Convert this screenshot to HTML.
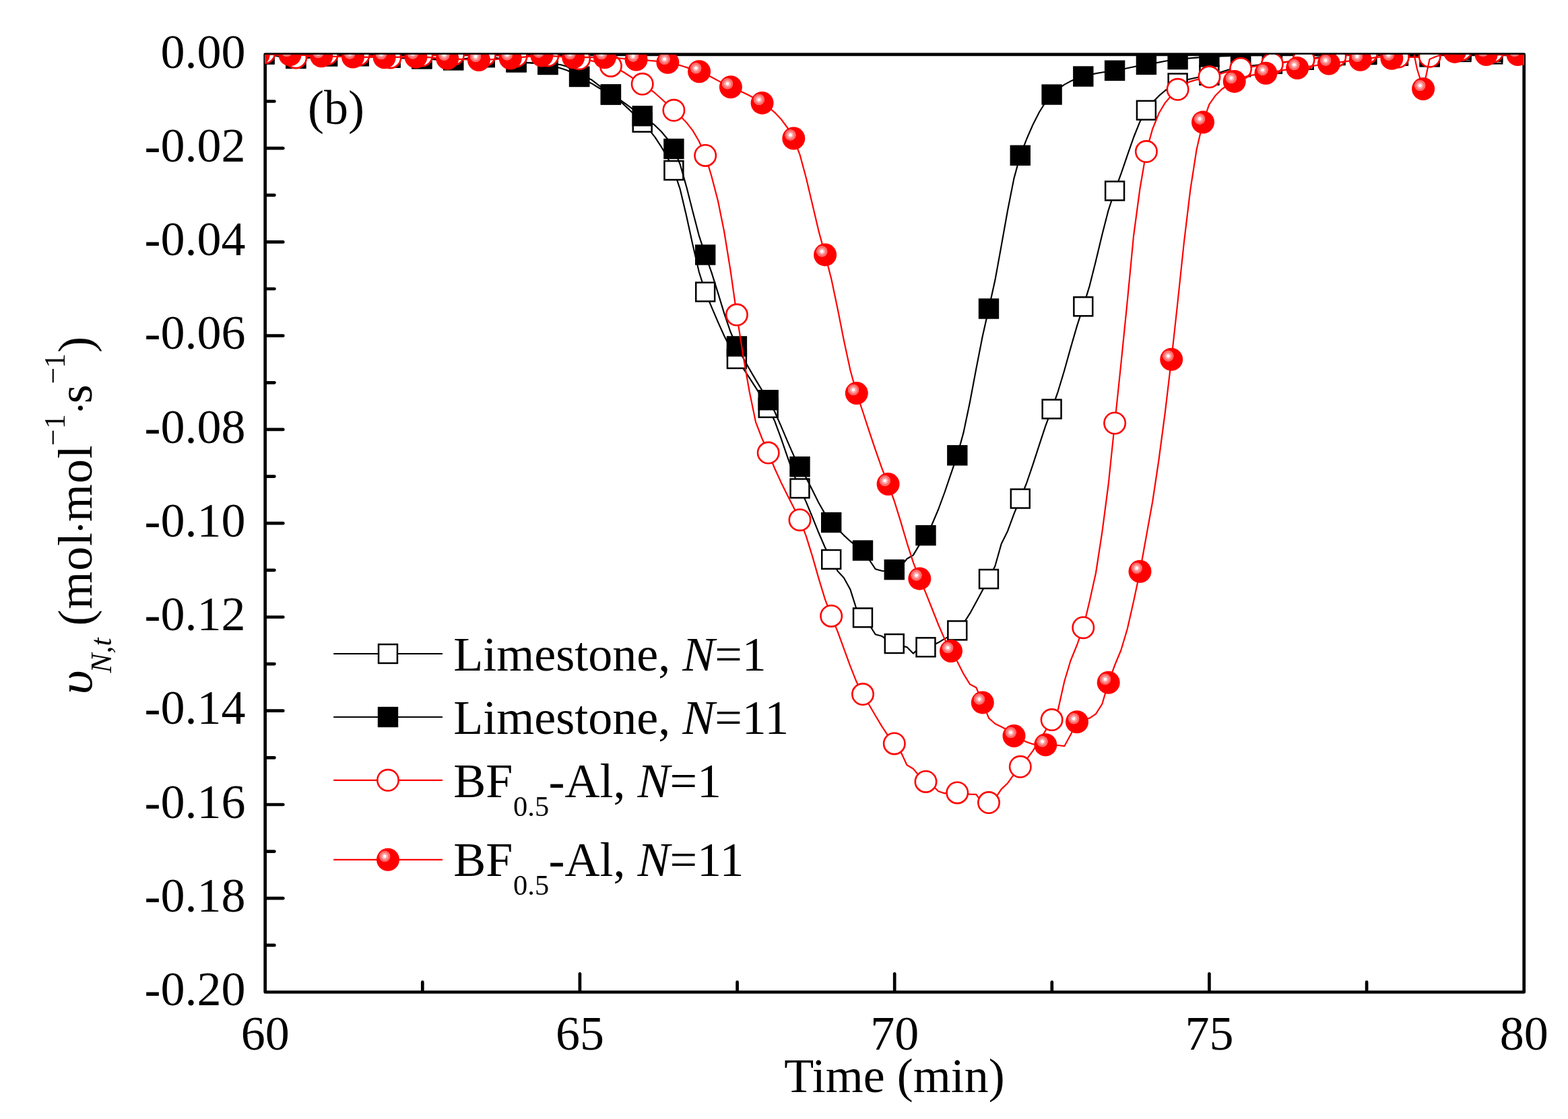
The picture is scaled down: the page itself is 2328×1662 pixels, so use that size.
<!DOCTYPE html>
<html><head><meta charset="utf-8"><title>Figure (b)</title>
<style>
html,body{margin:0;padding:0;background:#fff;}
svg{display:block;}
text{font-family:"Liberation Serif","Times New Roman",serif;fill:#000;}
.tk{font-size:72px;}
.ax{stroke:#000;stroke-width:4.7;stroke-linecap:round;fill:none;}
.lb{stroke:#000;stroke-width:2.15;fill:none;stroke-linejoin:round;}
.lr{stroke:#ff0000;stroke-width:2.2;fill:none;stroke-linejoin:round;}
.os{fill:#fff;stroke:#000;stroke-width:2.5;}
.fs{fill:#000;stroke:none;}
.oc{fill:#fff;stroke:#ff0000;stroke-width:2.6;}
</style></head><body>
<svg width="2328" height="1662" viewBox="0 0 2328 1662">
<defs>
<clipPath id="pc"><rect x="393.7" y="80.9" width="1869.0" height="1392.6"/></clipPath>
<radialGradient id="bg" gradientUnits="userSpaceOnUse" cx="-4.8" cy="-5" r="8.6">
<stop offset="0" stop-color="#fff"/><stop offset="0.24" stop-color="#fff"/>
<stop offset="0.30" stop-color="#ffb4b4"/><stop offset="0.55" stop-color="#ff9c9c"/>
<stop offset="0.62" stop-color="#ff7474"/><stop offset="0.93" stop-color="#ff6464"/>
<stop offset="1" stop-color="#ff0000"/>
</radialGradient>
<g id="ball"><circle r="17" fill="#ff0000"/><circle cx="-4.8" cy="-5" r="8.6" fill="url(#bg)"/></g>
<rect id="osq" class="os" x="-13.95" y="-13.95" width="27.9" height="27.9"/>
<rect id="fsq" class="fs" x="-15.2" y="-15.2" width="30.4" height="30.4"/>
<circle id="ocr" class="oc" r="15.7"/>
</defs>
<rect width="2328" height="1662" fill="#fff"/>

<g class="ax">
<rect x="393.7" y="80.9" width="1869.0" height="1392.6" stroke-linejoin="round"/>
<line x1="395.7" y1="150.5" x2="407.4" y2="150.5"/>
<line x1="395.7" y1="220.2" x2="420.3" y2="220.2"/>
<line x1="395.7" y1="289.8" x2="407.4" y2="289.8"/>
<line x1="395.7" y1="359.4" x2="420.3" y2="359.4"/>
<line x1="395.7" y1="429.0" x2="407.4" y2="429.0"/>
<line x1="395.7" y1="498.7" x2="420.3" y2="498.7"/>
<line x1="395.7" y1="568.3" x2="407.4" y2="568.3"/>
<line x1="395.7" y1="637.9" x2="420.3" y2="637.9"/>
<line x1="395.7" y1="707.6" x2="407.4" y2="707.6"/>
<line x1="395.7" y1="777.2" x2="420.3" y2="777.2"/>
<line x1="395.7" y1="846.8" x2="407.4" y2="846.8"/>
<line x1="395.7" y1="916.5" x2="420.3" y2="916.5"/>
<line x1="395.7" y1="986.1" x2="407.4" y2="986.1"/>
<line x1="395.7" y1="1055.7" x2="420.3" y2="1055.7"/>
<line x1="395.7" y1="1125.4" x2="407.4" y2="1125.4"/>
<line x1="395.7" y1="1195.0" x2="420.3" y2="1195.0"/>
<line x1="395.7" y1="1264.6" x2="407.4" y2="1264.6"/>
<line x1="395.7" y1="1334.2" x2="420.3" y2="1334.2"/>
<line x1="395.7" y1="1403.9" x2="407.4" y2="1403.9"/>
<line x1="627.3" y1="1471.5" x2="627.3" y2="1458.7"/>
<line x1="860.9" y1="1471.5" x2="860.9" y2="1446.3"/>
<line x1="1094.6" y1="1471.5" x2="1094.6" y2="1458.7"/>
<line x1="1328.2" y1="1471.5" x2="1328.2" y2="1446.3"/>
<line x1="1561.8" y1="1471.5" x2="1561.8" y2="1458.7"/>
<line x1="1795.4" y1="1471.5" x2="1795.4" y2="1446.3"/>
<line x1="2029.1" y1="1471.5" x2="2029.1" y2="1458.7"/>
</g>
<g class="tk" text-anchor="end">
<text x="364.6" y="100.5">0.00</text>
<text x="364.6" y="239.8">-0.02</text>
<text x="364.6" y="379.0">-0.04</text>
<text x="364.6" y="518.3">-0.06</text>
<text x="364.6" y="657.5">-0.08</text>
<text x="364.6" y="796.8">-0.10</text>
<text x="364.6" y="936.1">-0.12</text>
<text x="364.6" y="1075.3">-0.14</text>
<text x="364.6" y="1214.6">-0.16</text>
<text x="364.6" y="1353.8">-0.18</text>
<text x="364.6" y="1493.1">-0.20</text>
</g>
<g class="tk" text-anchor="middle">
<text x="393.7" y="1558.5">60</text>
<text x="860.9" y="1558.5">65</text>
<text x="1328.2" y="1558.5">70</text>
<text x="1795.4" y="1558.5">75</text>
<text x="2262.7" y="1558.5">80</text>
<text x="1328" y="1621.5">Time (min)</text>
</g>
<text class="tk" x="457" y="183.5">(b)</text>
<g transform="translate(136,1029) rotate(-90)" class="tk">
<text x="-2.5" y="0" font-style="italic" textLength="36" lengthAdjust="spacingAndGlyphs">&#965;</text>
<text x="29.6" y="28.7" font-size="43.5px" font-style="italic">N,t</text>
<text x="99.4" y="0" letter-spacing="0.9">(mol</text>
<text x="235" y="4" font-size="62px">&#183;</text>
<text x="254" y="0" letter-spacing="0.9">mol</text>
<text x="367" y="-43.2" font-size="43.5px">&#8722;</text>
<text x="392" y="-39.6" font-size="43.5px">1</text>
<text x="412.6" y="4" font-size="62px">&#183;</text>
<text x="429.8" y="0">s</text>
<text x="458.7" y="-43.2" font-size="43.5px">&#8722;</text>
<text x="482.2" y="-39.6" font-size="43.5px">1</text>
<text x="505.3" y="0">)</text>
</g>
<g clip-path="url(#pc)">
<path class="lb" d="M392.5 80.3 L401.9 81.6 L411.2 83.3 L420.6 84.9 L429.9 86.2 L439.3 86.9 L448.6 86.8 L458.0 86.0 L467.3 85.0 L476.7 84.1 L486.0 83.5 L495.4 83.2 L504.7 83.1 L514.1 83.0 L523.4 83.1 L532.8 83.2 L542.1 83.5 L551.5 84.1 L560.8 84.7 L570.2 85.3 L579.5 85.8 L588.9 86.1 L598.3 86.5 L607.6 86.8 L617.0 87.1 L626.3 87.4 L635.7 87.8 L645.0 88.3 L654.4 88.8 L663.7 89.2 L673.1 89.2 L682.4 88.6 L691.8 87.5 L701.1 86.3 L710.5 85.4 L719.8 85.2 L729.2 86.0 L738.5 87.5 L747.9 89.4 L757.2 91.2 L766.6 92.5 L776.0 93.1 L785.3 93.5 L794.7 93.9 L804.0 94.7 L813.4 96.0 L822.7 98.6 L832.1 101.3 L841.4 104.2 L850.8 108.5 L860.1 114.0 L869.5 119.5 L878.8 124.2 L888.2 130.0 L897.5 135.0 L906.9 140.6 L916.2 146.9 L925.6 154.7 L934.9 163.4 L944.3 172.6 L953.7 181.8 L963.0 191.8 L972.4 203.7 L981.7 217.8 L991.1 234.2 L1000.4 253.1 L1009.8 281.2 L1019.1 320.4 L1028.5 363.6 L1037.8 403.7 L1047.2 433.6 L1056.5 456.1 L1065.9 478.1 L1075.2 498.8 L1084.6 517.4 L1093.9 533.0 L1103.3 546.9 L1112.6 561.2 L1122.0 575.7 L1131.3 590.6 L1140.7 605.8 L1150.1 625.2 L1159.4 650.3 L1168.8 677.7 L1178.1 703.9 L1187.5 725.4 L1196.8 745.4 L1206.2 768.1 L1215.5 791.3 L1224.9 813.0 L1234.2 830.9 L1243.6 848.1 L1252.9 858.3 L1262.3 875.2 L1271.6 904.5 L1281.0 917.4 L1290.3 927.3 L1299.7 942.3 L1309.0 944.7 L1318.4 951.3 L1327.8 956.0 L1337.1 959.0 L1346.5 961.1 L1355.8 970.6 L1365.2 962.3 L1374.5 961.3 L1383.9 959.0 L1393.2 954.3 L1402.6 948.6 L1411.9 943.9 L1421.3 936.4 L1430.6 925.8 L1440.0 911.2 L1449.3 894.3 L1458.7 876.7 L1468.0 860.0 L1477.4 840.8 L1486.7 807.7 L1496.1 788.7 L1505.4 763.4 L1514.8 740.6 L1524.2 717.5 L1533.5 690.2 L1542.9 661.2 L1552.2 632.8 L1561.6 607.6 L1570.9 581.3 L1580.3 550.0 L1589.6 516.6 L1599.0 484.1 L1608.3 455.3 L1617.7 424.6 L1627.0 387.4 L1636.4 348.3 L1645.7 312.1 L1655.1 283.5 L1664.4 258.2 L1673.8 230.7 L1683.1 204.0 L1692.5 180.7 L1701.9 163.8 L1711.2 152.1 L1720.6 142.4 L1729.9 134.5 L1739.3 128.2 L1748.6 123.4 L1758.0 119.8 L1767.3 117.2 L1776.7 115.3 L1786.0 113.6 L1795.4 111.8 L1804.7 109.5 L1814.1 106.7 L1823.4 103.8 L1832.8 101.3 L1842.1 99.4 L1851.5 98.2 L1860.8 97.2 L1870.2 96.3 L1879.5 95.5 L1888.9 94.7 L1898.3 93.7 L1907.6 92.5 L1917.0 91.2 L1926.3 90.0 L1935.7 88.8 L1945.0 87.5 L1954.4 85.8 L1963.7 84.1 L1973.1 82.5 L1982.4 81.5 L1991.8 80.9 L2001.1 80.5 L2010.5 80.2 L2019.8 80.0 L2029.2 80.0 L2038.5 80.1 L2047.9 80.4 L2057.2 80.7 L2066.6 81.1 L2075.9 81.5 L2085.3 82.1 L2094.7 82.9 L2104.0 83.7 L2113.4 84.2 L2122.7 84.2 L2132.1 83.3 L2141.4 81.6 L2150.8 79.6 L2160.1 77.9 L2169.5 77.0 L2178.8 77.1 L2188.2 77.8 L2197.5 78.8 L2206.9 79.8 L2216.2 80.4 L2225.6 80.7 L2234.9 80.8 L2244.3 80.9 L2253.6 80.9 L2263.0 81.0"/>
<use href="#osq" x="392.5" y="80.3"/>
<use href="#osq" x="439.3" y="86.9"/>
<use href="#osq" x="486.0" y="83.5"/>
<use href="#osq" x="532.8" y="83.2"/>
<use href="#osq" x="579.5" y="85.8"/>
<use href="#osq" x="626.3" y="87.4"/>
<use href="#osq" x="673.1" y="89.2"/>
<use href="#osq" x="719.8" y="85.2"/>
<use href="#osq" x="766.6" y="92.5"/>
<use href="#osq" x="813.4" y="96.0"/>
<use href="#osq" x="860.1" y="114.0"/>
<use href="#osq" x="906.9" y="140.6"/>
<use href="#osq" x="953.7" y="181.8"/>
<use href="#osq" x="1000.4" y="253.1"/>
<use href="#osq" x="1047.2" y="433.6"/>
<use href="#osq" x="1093.9" y="533.0"/>
<use href="#osq" x="1140.7" y="605.8"/>
<use href="#osq" x="1187.5" y="725.4"/>
<use href="#osq" x="1234.2" y="830.9"/>
<use href="#osq" x="1281.0" y="917.4"/>
<use href="#osq" x="1327.8" y="956.0"/>
<use href="#osq" x="1374.5" y="961.3"/>
<use href="#osq" x="1421.3" y="936.4"/>
<use href="#osq" x="1468.0" y="860.0"/>
<use href="#osq" x="1514.8" y="740.6"/>
<use href="#osq" x="1561.6" y="607.6"/>
<use href="#osq" x="1608.3" y="455.3"/>
<use href="#osq" x="1655.1" y="283.5"/>
<use href="#osq" x="1701.9" y="163.8"/>
<use href="#osq" x="1748.6" y="123.4"/>
<use href="#osq" x="1795.4" y="111.8"/>
<use href="#osq" x="1842.1" y="99.4"/>
<use href="#osq" x="1888.9" y="94.7"/>
<use href="#osq" x="1935.7" y="88.8"/>
<use href="#osq" x="1982.4" y="81.5"/>
<use href="#osq" x="2029.2" y="80.0"/>
<use href="#osq" x="2075.9" y="81.5"/>
<use href="#osq" x="2122.7" y="84.2"/>
<use href="#osq" x="2169.5" y="77.0"/>
<use href="#osq" x="2216.2" y="80.4"/>
<use href="#osq" x="2263.0" y="81.0"/>
<path class="lb" d="M392.5 80.5 L401.9 81.6 L411.2 83.0 L420.6 84.3 L429.9 85.4 L439.3 86.0 L448.6 85.9 L458.0 85.2 L467.3 84.3 L476.7 83.5 L486.0 83.0 L495.4 82.8 L504.7 82.8 L514.1 82.8 L523.4 82.9 L532.8 83.0 L542.1 83.3 L551.5 83.7 L560.8 84.1 L570.2 84.6 L579.5 85.0 L588.9 85.4 L598.3 85.8 L607.6 86.2 L617.0 86.6 L626.3 87.0 L635.7 87.5 L645.0 88.1 L654.4 88.8 L663.7 89.2 L673.1 89.2 L682.4 88.5 L691.8 87.1 L701.1 85.6 L710.5 84.4 L719.8 84.0 L729.2 84.8 L738.5 86.4 L747.9 88.5 L757.2 90.4 L766.6 91.8 L776.0 92.5 L785.3 93.0 L794.7 93.6 L804.0 94.4 L813.4 95.8 L822.7 95.2 L832.1 96.0 L841.4 98.7 L850.8 105.0 L860.1 113.8 L869.5 114.5 L878.8 118.8 L888.2 126.2 L897.5 133.4 L906.9 140.2 L916.2 145.5 L925.6 151.8 L934.9 158.6 L944.3 165.6 L953.7 172.3 L963.0 178.9 L972.4 186.2 L981.7 195.2 L991.1 206.5 L1000.4 221.1 L1009.8 244.3 L1019.1 277.1 L1028.5 314.1 L1037.8 349.8 L1047.2 378.5 L1056.5 404.9 L1065.9 434.9 L1075.2 465.4 L1084.6 493.0 L1093.9 514.4 L1103.3 531.5 L1112.6 548.0 L1122.0 564.1 L1131.3 579.5 L1140.7 594.2 L1150.1 611.3 L1159.4 632.4 L1168.8 654.7 L1178.1 675.9 L1187.5 693.2 L1196.8 709.5 L1206.2 728.0 L1215.5 746.7 L1224.9 763.3 L1234.2 776.0 L1243.6 785.8 L1252.9 795.1 L1262.3 803.7 L1271.6 811.3 L1281.0 817.6 L1290.3 831.0 L1299.7 845.2 L1309.0 847.8 L1318.4 849.0 L1327.8 846.1 L1337.1 841.8 L1346.5 830.0 L1355.8 824.6 L1365.2 808.9 L1374.5 795.2 L1383.9 778.5 L1393.2 756.5 L1402.6 731.0 L1411.9 703.7 L1421.3 676.3 L1430.6 642.1 L1440.0 597.3 L1449.3 547.9 L1458.7 499.7 L1468.0 458.5 L1477.4 416.1 L1486.7 364.9 L1496.1 312.2 L1505.4 265.1 L1514.8 230.8 L1524.2 206.6 L1533.5 185.2 L1542.9 166.8 L1552.2 151.8 L1561.6 140.5 L1570.9 132.1 L1580.3 125.6 L1589.6 120.6 L1599.0 116.6 L1608.3 113.5 L1617.7 111.0 L1627.0 109.1 L1636.4 107.5 L1645.7 106.2 L1655.1 104.8 L1664.4 103.2 L1673.8 101.3 L1683.1 99.3 L1692.5 97.4 L1701.9 95.8 L1711.2 94.3 L1720.6 92.6 L1729.9 90.8 L1739.3 89.3 L1748.6 88.1 L1758.0 87.2 L1767.3 86.4 L1776.7 85.6 L1786.0 84.9 L1795.4 84.4 L1804.7 83.9 L1814.1 83.5 L1823.4 83.1 L1832.8 82.7 L1842.1 82.5 L1851.5 82.3 L1860.8 82.2 L1870.2 82.1 L1879.5 82.0 L1888.9 82.0 L1898.3 82.0 L1907.6 82.0 L1917.0 82.0 L1926.3 82.0 L1935.7 82.0 L1945.0 82.0 L1954.4 82.1 L1963.7 82.1 L1973.1 82.1 L1982.4 82.1 L1991.8 81.9 L2001.1 81.7 L2010.5 81.4 L2019.8 81.2 L2029.2 81.1 L2038.5 81.3 L2047.9 81.6 L2057.2 82.0 L2066.6 82.5 L2075.9 82.8 L2085.3 83.2 L2094.7 83.8 L2104.0 84.3 L2113.4 84.5 L2122.7 84.2 L2132.1 82.8 L2141.4 80.4 L2150.8 77.7 L2160.1 75.3 L2169.5 74.0 L2178.8 73.9 L2188.2 74.4 L2197.5 75.3 L2206.9 76.3 L2216.2 77.0 L2225.6 77.5 L2234.9 78.2 L2244.3 78.8 L2253.6 79.5 L2263.0 80.0"/>
<use href="#fsq" x="392.5" y="80.5"/>
<use href="#fsq" x="439.3" y="86.0"/>
<use href="#fsq" x="486.0" y="83.0"/>
<use href="#fsq" x="532.8" y="83.0"/>
<use href="#fsq" x="579.5" y="85.0"/>
<use href="#fsq" x="626.3" y="87.0"/>
<use href="#fsq" x="673.1" y="89.2"/>
<use href="#fsq" x="719.8" y="84.0"/>
<use href="#fsq" x="766.6" y="91.8"/>
<use href="#fsq" x="813.4" y="95.8"/>
<use href="#fsq" x="860.1" y="113.8"/>
<use href="#fsq" x="906.9" y="140.2"/>
<use href="#fsq" x="953.7" y="172.3"/>
<use href="#fsq" x="1000.4" y="221.1"/>
<use href="#fsq" x="1047.2" y="378.5"/>
<use href="#fsq" x="1093.9" y="514.4"/>
<use href="#fsq" x="1140.7" y="594.2"/>
<use href="#fsq" x="1187.5" y="693.2"/>
<use href="#fsq" x="1234.2" y="776.0"/>
<use href="#fsq" x="1281.0" y="817.6"/>
<use href="#fsq" x="1327.8" y="846.1"/>
<use href="#fsq" x="1374.5" y="795.2"/>
<use href="#fsq" x="1421.3" y="676.3"/>
<use href="#fsq" x="1468.0" y="458.5"/>
<use href="#fsq" x="1514.8" y="230.8"/>
<use href="#fsq" x="1561.6" y="140.5"/>
<use href="#fsq" x="1608.3" y="113.5"/>
<use href="#fsq" x="1655.1" y="104.8"/>
<use href="#fsq" x="1701.9" y="95.8"/>
<use href="#fsq" x="1748.6" y="88.1"/>
<use href="#fsq" x="1795.4" y="84.4"/>
<use href="#fsq" x="1842.1" y="82.5"/>
<use href="#fsq" x="1888.9" y="82.0"/>
<use href="#fsq" x="1935.7" y="82.0"/>
<use href="#fsq" x="1982.4" y="82.1"/>
<use href="#fsq" x="2029.2" y="81.1"/>
<use href="#fsq" x="2075.9" y="82.8"/>
<use href="#fsq" x="2122.7" y="84.2"/>
<use href="#fsq" x="2169.5" y="74.0"/>
<use href="#fsq" x="2216.2" y="77.0"/>
<use href="#fsq" x="2263.0" y="80.0"/>
<path class="lr" d="M392.5 78.6 L401.9 80.0 L411.2 81.7 L420.6 83.4 L429.9 84.8 L439.3 85.4 L448.6 85.0 L458.0 83.8 L467.3 82.3 L476.7 81.0 L486.0 80.2 L495.4 80.0 L504.7 80.1 L514.1 80.4 L523.4 80.8 L532.8 81.2 L542.1 81.9 L551.5 82.9 L560.8 84.0 L570.2 85.0 L579.5 85.4 L588.9 85.2 L598.3 84.6 L607.6 83.8 L617.0 83.0 L626.3 82.5 L635.7 82.1 L645.0 81.7 L654.4 81.4 L663.7 81.1 L673.1 81.0 L682.4 81.1 L691.8 81.2 L701.1 81.5 L710.5 81.8 L719.8 82.0 L729.2 82.2 L738.5 82.5 L747.9 82.8 L757.2 83.1 L766.6 83.2 L776.0 83.1 L785.3 82.9 L794.7 82.6 L804.0 82.5 L813.4 82.6 L822.7 83.1 L832.1 83.9 L841.4 84.9 L850.8 86.0 L860.1 87.2 L869.5 88.6 L878.8 90.4 L888.2 92.6 L897.5 95.1 L906.9 97.9 L916.2 101.8 L925.6 107.0 L934.9 113.0 L944.3 119.1 L953.7 124.8 L963.0 130.9 L972.4 138.2 L981.7 146.5 L991.1 155.2 L1000.4 163.8 L1009.8 172.3 L1019.1 181.9 L1028.5 193.9 L1037.8 209.7 L1047.2 230.9 L1056.5 262.0 L1065.9 298.0 L1075.2 344.0 L1084.6 402.0 L1093.9 467.6 L1103.3 528.0 L1112.6 581.3 L1122.0 626.8 L1131.3 651.0 L1140.7 672.6 L1150.1 695.5 L1159.4 715.9 L1168.8 734.9 L1178.1 753.3 L1187.5 772.2 L1196.8 796.1 L1206.2 826.4 L1215.5 859.1 L1224.9 889.9 L1234.2 914.9 L1243.6 937.8 L1252.9 963.4 L1262.3 989.2 L1271.6 1012.6 L1281.0 1031.1 L1290.3 1046.8 L1299.7 1062.8 L1309.0 1078.4 L1318.4 1092.6 L1327.8 1104.4 L1337.1 1116.0 L1346.5 1136.2 L1355.8 1141.8 L1365.2 1152.9 L1374.5 1160.9 L1383.9 1166.0 L1393.2 1175.3 L1402.6 1178.4 L1411.9 1175.0 L1421.3 1177.4 L1430.6 1179.0 L1440.0 1179.6 L1449.3 1179.9 L1458.7 1192.9 L1468.0 1192.1 L1477.4 1186.2 L1486.7 1172.1 L1496.1 1163.2 L1505.4 1150.1 L1514.8 1138.8 L1524.2 1127.9 L1533.5 1115.1 L1542.9 1100.8 L1552.2 1085.4 L1561.6 1069.1 L1570.9 1054.0 L1580.3 1012.0 L1589.6 981.0 L1599.0 958.0 L1608.3 932.2 L1617.7 893.0 L1627.0 851.0 L1636.4 790.0 L1645.7 719.0 L1655.1 628.5 L1664.4 540.0 L1673.8 447.0 L1683.1 350.0 L1692.5 280.0 L1701.9 225.1 L1711.2 191.5 L1720.6 168.3 L1729.9 152.6 L1739.3 141.7 L1748.6 132.8 L1758.0 125.6 L1767.3 121.1 L1776.7 118.3 L1786.0 116.4 L1795.4 114.3 L1804.7 111.7 L1814.1 108.9 L1823.4 106.3 L1832.8 103.9 L1842.1 102.0 L1851.5 100.4 L1860.8 98.9 L1870.2 97.4 L1879.5 96.1 L1888.9 94.9 L1898.3 93.7 L1907.6 92.2 L1917.0 90.8 L1926.3 89.5 L1935.7 88.4 L1945.0 87.5 L1954.4 86.6 L1963.7 85.7 L1973.1 84.8 L1982.4 84.0 L1991.8 83.0 L2001.1 81.6 L2010.5 80.3 L2019.8 79.3 L2029.2 78.9 L2038.5 79.4 L2047.9 80.7 L2057.2 82.3 L2066.6 83.7 L2075.9 84.5 L2085.3 84.8 L2094.7 84.9 L2104.0 84.8 L2113.4 84.5 L2122.7 83.8 L2132.1 82.3 L2141.4 80.0 L2150.8 77.4 L2160.1 75.2 L2169.5 73.9 L2178.8 73.7 L2188.2 74.2 L2197.5 75.1 L2206.9 76.0 L2216.2 76.7 L2225.6 77.3 L2234.9 78.0 L2244.3 78.7 L2253.6 79.4 L2263.0 80.0"/>
<use href="#ocr" x="392.5" y="78.6"/>
<use href="#ocr" x="439.3" y="85.4"/>
<use href="#ocr" x="486.0" y="80.2"/>
<use href="#ocr" x="532.8" y="81.2"/>
<use href="#ocr" x="579.5" y="85.4"/>
<use href="#ocr" x="626.3" y="82.5"/>
<use href="#ocr" x="673.1" y="81.0"/>
<use href="#ocr" x="719.8" y="82.0"/>
<use href="#ocr" x="766.6" y="83.2"/>
<use href="#ocr" x="813.4" y="82.6"/>
<use href="#ocr" x="860.1" y="87.2"/>
<use href="#ocr" x="906.9" y="97.9"/>
<use href="#ocr" x="953.7" y="124.8"/>
<use href="#ocr" x="1000.4" y="163.8"/>
<use href="#ocr" x="1047.2" y="230.9"/>
<use href="#ocr" x="1093.9" y="467.6"/>
<use href="#ocr" x="1140.7" y="672.6"/>
<use href="#ocr" x="1187.5" y="772.2"/>
<use href="#ocr" x="1234.2" y="914.9"/>
<use href="#ocr" x="1281.0" y="1031.1"/>
<use href="#ocr" x="1327.8" y="1104.4"/>
<use href="#ocr" x="1374.5" y="1160.9"/>
<use href="#ocr" x="1421.3" y="1177.4"/>
<use href="#ocr" x="1468.0" y="1192.1"/>
<use href="#ocr" x="1514.8" y="1138.8"/>
<use href="#ocr" x="1561.6" y="1069.1"/>
<use href="#ocr" x="1608.3" y="932.2"/>
<use href="#ocr" x="1655.1" y="628.5"/>
<use href="#ocr" x="1701.9" y="225.1"/>
<use href="#ocr" x="1748.6" y="132.8"/>
<use href="#ocr" x="1795.4" y="114.3"/>
<use href="#ocr" x="1842.1" y="102.0"/>
<use href="#ocr" x="1888.9" y="94.9"/>
<use href="#ocr" x="1935.7" y="88.4"/>
<use href="#ocr" x="1982.4" y="84.0"/>
<use href="#ocr" x="2029.2" y="78.9"/>
<use href="#ocr" x="2075.9" y="84.5"/>
<use href="#ocr" x="2122.7" y="83.8"/>
<use href="#ocr" x="2169.5" y="73.9"/>
<use href="#ocr" x="2216.2" y="76.7"/>
<use href="#ocr" x="2263.0" y="80.0"/>
<path class="lr" d="M383.8 81.0 L393.1 81.0 L402.5 81.0 L411.8 81.0 L421.2 81.1 L430.5 81.2 L439.8 81.5 L449.2 81.9 L458.5 82.4 L467.9 82.9 L477.2 83.2 L486.6 83.5 L495.9 83.8 L505.3 84.1 L514.6 84.3 L524.0 84.5 L533.3 84.7 L542.7 84.9 L552.0 85.0 L561.4 85.2 L570.7 85.2 L580.1 85.1 L589.4 84.9 L598.8 84.7 L608.1 84.5 L617.5 84.5 L626.8 84.8 L636.2 85.2 L645.5 85.8 L654.9 86.3 L664.2 86.8 L673.5 87.3 L682.9 87.9 L692.2 88.5 L701.6 88.9 L710.9 89.1 L720.3 88.9 L729.6 88.4 L739.0 87.8 L748.3 87.1 L757.7 86.5 L767.0 85.8 L776.4 84.8 L785.7 83.8 L795.1 83.0 L804.4 82.6 L813.8 82.8 L823.1 83.3 L832.5 84.1 L841.8 84.8 L851.2 85.2 L860.5 85.3 L869.9 85.2 L879.2 85.1 L888.6 85.1 L897.9 85.2 L907.2 85.6 L916.6 86.3 L925.9 87.1 L935.3 87.9 L944.6 88.6 L954.0 89.2 L963.3 89.8 L972.7 90.6 L982.0 91.6 L991.4 92.8 L1000.7 94.6 L1010.1 97.2 L1019.4 100.1 L1028.8 103.3 L1038.1 106.3 L1047.5 110.0 L1056.8 114.7 L1066.2 119.9 L1075.5 125.0 L1084.9 129.3 L1094.2 133.2 L1103.6 137.4 L1112.9 142.0 L1122.3 147.1 L1131.6 152.9 L1140.9 159.4 L1150.3 167.1 L1159.6 176.9 L1169.0 189.5 L1178.3 205.5 L1187.7 230.2 L1197.0 264.8 L1206.4 304.4 L1215.7 343.9 L1225.1 378.4 L1234.4 414.8 L1243.8 459.5 L1253.1 506.5 L1262.5 550.0 L1271.8 584.0 L1281.2 612.0 L1290.5 640.6 L1299.9 668.7 L1309.2 695.2 L1318.6 719.0 L1327.9 744.5 L1337.3 774.8 L1346.6 806.3 L1356.0 835.6 L1365.3 859.4 L1374.6 880.9 L1384.0 904.5 L1393.3 928.0 L1402.7 949.6 L1412.0 967.0 L1421.4 982.8 L1430.7 1001.2 L1440.1 1016.3 L1449.4 1021.2 L1458.8 1043.4 L1468.1 1066.6 L1477.5 1075.0 L1486.8 1079.5 L1496.2 1084.5 L1505.5 1093.0 L1514.9 1097.9 L1524.2 1102.1 L1533.6 1105.2 L1542.9 1106.8 L1552.3 1106.3 L1561.6 1106.5 L1571.0 1107.0 L1580.3 1108.2 L1589.7 1091.0 L1599.0 1072.3 L1608.3 1069.0 L1617.7 1066.6 L1627.0 1060.3 L1636.4 1045.5 L1645.7 1013.8 L1655.1 988.0 L1664.4 965.5 L1673.8 934.0 L1683.1 893.0 L1692.5 848.8 L1701.8 797.0 L1711.2 745.0 L1720.5 683.0 L1729.9 612.0 L1739.2 533.7 L1748.6 448.0 L1757.9 360.0 L1767.3 282.0 L1776.6 222.0 L1786.0 181.6 L1795.3 155.1 L1804.7 141.7 L1814.0 132.5 L1823.4 126.0 L1832.7 120.9 L1842.0 116.2 L1851.4 113.2 L1860.7 111.4 L1870.1 110.1 L1879.4 108.8 L1888.8 107.2 L1898.1 105.5 L1907.5 103.9 L1916.8 102.4 L1926.2 101.1 L1935.5 99.9 L1944.9 98.5 L1954.2 97.1 L1963.6 95.7 L1972.9 94.6 L1982.3 93.5 L1991.6 92.2 L2001.0 90.8 L2010.3 89.7 L2019.7 88.8 L2029.0 87.6 L2038.4 85.9 L2047.7 84.6 L2057.1 84.6 L2066.4 86.7 L2075.7 84.0 L2085.1 74.0 L2094.4 55.0 L2103.8 102.0 L2113.1 132.0 L2122.5 88.0 L2131.8 84.0 L2141.2 81.0 L2150.5 79.0 L2159.9 76.9 L2169.2 74.7 L2178.6 75.3 L2187.9 77.4 L2197.3 79.8 L2206.6 81.1 L2216.0 81.3 L2225.3 81.3 L2234.7 81.3 L2244.0 81.2 L2253.4 81.1 L2262.7 81.1 L2272.1 81.1 L2281.4 81.0 L2290.8 81.0 L2300.1 81.0"/>
<use href="#ball" x="383.8" y="81.0"/>
<use href="#ball" x="430.5" y="81.2"/>
<use href="#ball" x="477.2" y="83.2"/>
<use href="#ball" x="524.0" y="84.5"/>
<use href="#ball" x="570.7" y="85.2"/>
<use href="#ball" x="617.5" y="84.5"/>
<use href="#ball" x="664.2" y="86.8"/>
<use href="#ball" x="710.9" y="89.1"/>
<use href="#ball" x="757.7" y="86.5"/>
<use href="#ball" x="804.4" y="82.6"/>
<use href="#ball" x="851.2" y="85.2"/>
<use href="#ball" x="897.9" y="85.2"/>
<use href="#ball" x="944.6" y="88.6"/>
<use href="#ball" x="991.4" y="92.8"/>
<use href="#ball" x="1038.1" y="106.3"/>
<use href="#ball" x="1084.9" y="129.3"/>
<use href="#ball" x="1131.6" y="152.9"/>
<use href="#ball" x="1178.3" y="205.5"/>
<use href="#ball" x="1225.1" y="378.4"/>
<use href="#ball" x="1271.8" y="584.0"/>
<use href="#ball" x="1318.6" y="719.0"/>
<use href="#ball" x="1365.3" y="859.4"/>
<use href="#ball" x="1412.0" y="967.0"/>
<use href="#ball" x="1458.8" y="1043.4"/>
<use href="#ball" x="1505.5" y="1093.0"/>
<use href="#ball" x="1552.3" y="1106.3"/>
<use href="#ball" x="1599.0" y="1072.3"/>
<use href="#ball" x="1645.7" y="1013.8"/>
<use href="#ball" x="1692.5" y="848.8"/>
<use href="#ball" x="1739.2" y="533.7"/>
<use href="#ball" x="1786.0" y="181.6"/>
<use href="#ball" x="1832.7" y="120.9"/>
<use href="#ball" x="1879.4" y="108.8"/>
<use href="#ball" x="1926.2" y="101.1"/>
<use href="#ball" x="1972.9" y="94.6"/>
<use href="#ball" x="2019.7" y="88.8"/>
<use href="#ball" x="2066.4" y="86.7"/>
<use href="#ball" x="2113.1" y="132.0"/>
<use href="#ball" x="2159.9" y="76.9"/>
<use href="#ball" x="2206.6" y="81.1"/>
<use href="#ball" x="2253.4" y="81.1"/>
<use href="#ball" x="2300.1" y="81.0"/>
</g>
<line class="lb" x1="495.2" y1="971.0" x2="657" y2="971.0"/>
<use href="#osq" x="576" y="971.0"/>
<text class="tk" x="673.3" y="995.6">Limestone, <tspan font-style="italic">N</tspan>=1</text>
<line class="lb" x1="495.2" y1="1065.0" x2="657" y2="1065.0"/>
<use href="#fsq" x="576" y="1065.0"/>
<text class="tk" x="673.3" y="1089.8">Limestone, <tspan font-style="italic">N</tspan>=11</text>
<line class="lr" x1="495.2" y1="1158.8" x2="657" y2="1158.8"/>
<use href="#ocr" x="576" y="1158.8"/>
<text class="tk" x="673.3" y="1183.5">BF</text>
<text x="762" y="1211.7" font-size="42.5px">0.5</text>
<text class="tk" x="814.5" y="1183.5">-Al, <tspan font-style="italic">N</tspan>=1</text>
<line class="lr" x1="495.2" y1="1276.8" x2="657" y2="1276.8"/>
<use href="#ball" x="576" y="1276.8"/>
<text class="tk" x="673.3" y="1301.2">BF</text>
<text x="762" y="1329.4" font-size="42.5px">0.5</text>
<text class="tk" x="814.5" y="1301.2">-Al, <tspan font-style="italic">N</tspan>=11</text>
</svg></body></html>
